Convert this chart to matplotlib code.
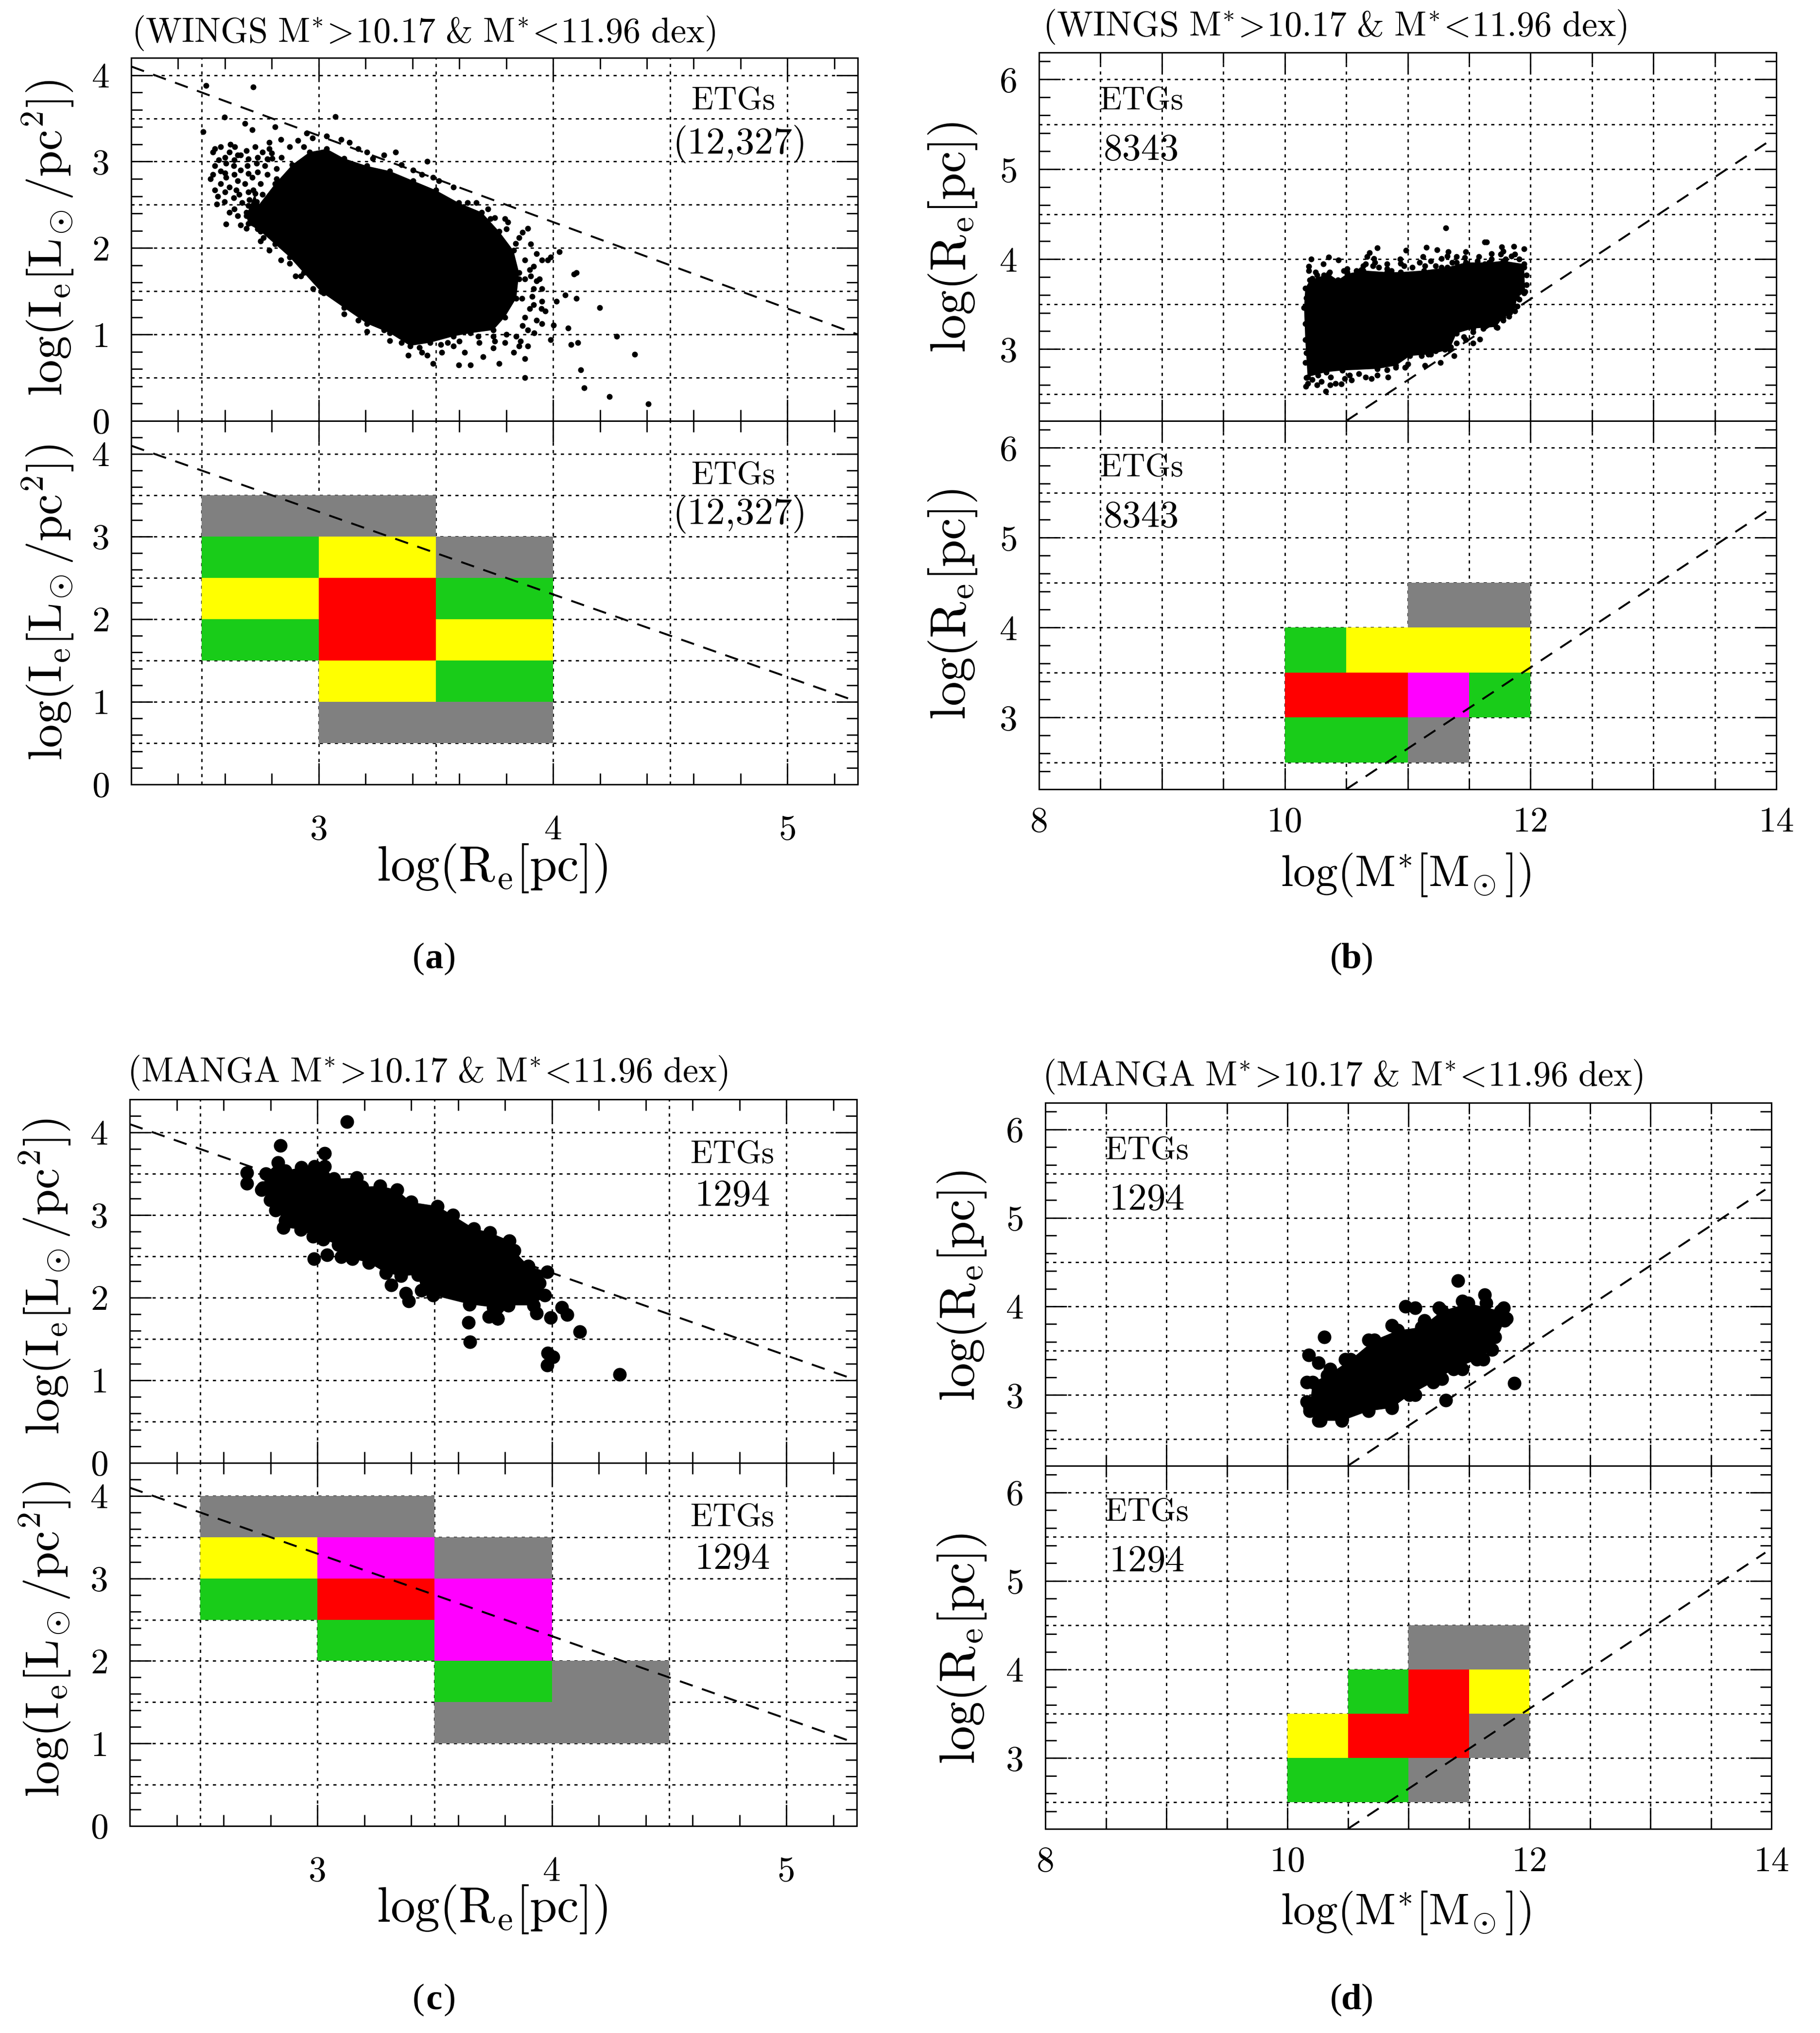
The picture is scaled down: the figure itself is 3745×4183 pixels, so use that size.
import matplotlib
matplotlib.use("Agg")
import matplotlib.pyplot as plt
from matplotlib.colors import ListedColormap, BoundaryNorm
import numpy as np

plt.rcParams['mathtext.fontset'] = 'cm'
plt.rcParams['lines.scale_dashes'] = False
plt.rcParams['axes.unicode_minus'] = False

W, H = 3745, 4183
DPI = 100

# ---------------- data ----------------
size_lum_line_x = [2.2, 5.3]
size_lum_line_y = [4.1, 1.0]
mass_size_line_x = [10.5, 13.95]
mass_size_line_y = [2.2, 5.32]

# Solid part of each cloud (boundary values)
a_cloud_x = [2.691,2.728,2.740,2.814,2.887,2.961,3.034,3.108,3.206,3.304,3.402,3.5,3.598,3.696,3.770,3.831,3.855,3.843,3.794,3.745,3.647,3.574,3.475,3.390,3.304,3.206,3.108,3.010,2.936,2.875,2.814,2.752,2.700]
a_cloud_y = [2.375,2.632,2.485,2.743,2.963,3.110,3.147,3.037,2.949,2.890,2.779,2.669,2.522,2.412,2.191,1.971,1.713,1.419,1.199,1.051,1.015,0.978,0.904,0.868,1.015,1.125,1.309,1.493,1.713,1.897,2.044,2.191,2.280]
a_pts_x = [2.507,2.520,2.721,3.071,3.328,3.463,2.598,2.686,2.623,2.556,2.654,2.716,2.556,2.605,2.539,2.569,2.605,2.691,2.647,2.716,2.814,2.949,2.936,3.132,3.230,3.439,3.512,3.635,3.733,3.806,3.892,3.953,4.027,3.917,3.990,4.088,4.100,3.941,4.015,4.051,4.100,4.199,3.953,4.002,4.064,3.990,4.076,4.105,4.272,4.348,4.118,4.132,4.240,4.407,3.880,3.770,3.880,3.855,3.701,3.647,3.598,3.488,3.382,3.304,3.206,3.022,2.924,2.875,2.789,3.880,3.794,3.745,3.684,3.574,3.525,3.439,3.868,3.917,3.953,3.855,3.819,
           2.549,2.581,2.618,2.642,2.667,2.691,2.728,2.760,2.789,2.574,2.605,2.637,2.667,2.696,2.735,2.770,2.801,2.549,2.581,2.618,2.654,2.686,2.721,2.752,2.564,2.598,2.637,2.672,2.703,2.735,2.556,2.581,2.618,2.654,2.691,2.667,2.716,2.765,2.801,2.789,2.838,2.875,2.912,2.973,3.034,3.096,3.169,3.206,3.279,3.353,3.402,3.488,3.574,3.672,3.721,3.794,3.855,3.904,3.929,3.978,3.880,3.904,3.953,3.880,3.917,3.966,3.929,3.892,3.843,3.892,3.831,3.745,3.623,3.549,3.463,3.353,3.279,3.169,3.108,2.975,2.900,2.838,2.752,
           2.60,2.64,2.70,2.74,2.78,2.60,2.64,2.70,2.74,2.78,2.82,2.60,2.66,2.70,2.76,2.64,2.70,2.72,2.76,2.78,2.74,2.80,2.82,2.84,2.80,
           3.90,3.93,3.91,3.95,3.90,3.87,3.92,3.86,3.80,3.75,3.68,3.60,3.52,3.43,3.84,3.87,3.75,3.80]
a_pts_y = [3.346,3.882,3.860,3.522,3.110,3.0,3.515,3.441,3.199,3.147,3.074,3.368,2.949,2.816,2.801,2.596,2.279,2.228,2.669,2.816,3.404,3.331,3.169,3.221,3.037,2.853,2.779,2.522,2.338,2.301,2.228,1.860,1.956,1.787,1.897,1.699,1.713,1.640,1.382,1.456,1.419,1.309,1.125,1.110,1.074,0.941,0.882,0.904,0.978,0.772,0.588,0.382,0.279,0.199,0.5,0.662,0.721,0.868,0.743,0.647,0.647,0.662,0.757,0.926,1.037,1.478,1.676,1.824,1.971,1.199,0.904,0.978,0.904,0.868,0.794,0.794,1.419,1.346,1.382,1.640,1.787,
           3.110,3.169,3.110,3.169,3.074,3.125,3.169,3.110,3.147,3.022,2.978,2.949,2.904,2.949,2.978,2.949,3.037,2.853,2.743,2.706,2.779,2.743,2.669,2.743,2.507,2.537,2.581,2.522,2.559,2.537,2.669,2.890,2.412,2.375,2.412,2.265,2.287,2.118,2.140,3.221,3.257,3.169,3.243,3.272,3.294,3.257,3.147,3.110,3.074,2.963,2.904,2.816,2.706,2.522,2.449,2.338,2.118,2.044,1.934,1.860,1.860,1.676,1.529,1.640,1.529,1.272,1.162,1.051,0.978,0.868,0.794,0.846,0.794,0.904,0.757,0.904,1.051,1.162,1.235,1.529,1.676,1.860,2.081,
           3.05,3.02,3.03,3.05,3.03,2.87,2.85,2.86,2.88,2.85,2.92,2.65,2.62,2.65,2.62,2.45,2.49,2.38,2.40,2.30,2.22,2.55,2.80,3.05,3.10,
           1.75,1.62,1.44,1.30,1.30,1.10,1.02,0.92,1.00,0.92,0.98,0.92,0.88,0.85,2.05,2.18,2.35,2.22]

b_cloud_x = [10.167,10.205,10.356,10.432,10.508,10.640,10.830,10.943,11.133,11.322,11.473,11.663,11.777,11.947,11.956,11.890,11.871,11.777,11.720,11.530,11.398,11.341,11.189,11.019,10.905,10.754,10.470,10.337,10.186,10.167,10.157]
b_cloud_y = [3.677,3.767,3.838,3.767,3.838,3.874,3.856,3.856,3.874,3.910,3.964,3.964,3.982,3.946,3.641,3.569,3.425,3.354,3.246,3.228,3.174,2.995,2.941,2.923,2.815,2.779,2.761,2.743,2.689,3.102,3.461]
b_pts_x = [11.311,11.625,11.644,10.754,10.987,11.152,11.241,11.767,11.866,11.947,11.331,11.473,10.688,10.356,10.437,10.214,10.314,10.195,10.252,10.725,10.640,10.830,10.939,11.123,11.275,11.398,11.682,11.578,11.871,11.777,10.508,10.170,10.333,10.261,10.369,10.460,10.545,10.176,10.706,10.839,10.977,11.142,11.265,11.379,11.587,11.530,11.350,11.455,11.729,11.824,
           10.195,10.223,10.261,10.318,10.366,10.479,10.508,10.583,10.621,10.669,10.659,10.716,10.735,10.763,10.830,10.867,10.943,10.972,11.038,11.095,11.142,11.189,11.227,11.275,11.322,11.360,11.398,11.464,11.483,11.568,11.625,11.682,11.758,11.795,11.843,11.909,11.947,11.966,11.966,11.947,11.909,11.890,11.833,11.777,11.682,11.616,11.530,11.473,11.398,11.303,11.227,11.170,11.114,11.0,10.905,10.830,10.754,10.659,10.602,10.527,10.413,10.375,10.299,10.223,10.186,10.271,10.489,10.174,10.167,10.167,10.176,10.223]
b_pts_y = [4.350,4.189,4.189,4.126,4.099,4.131,4.104,4.135,4.144,4.117,4.081,4.081,4.072,4.022,3.991,4.0,3.946,3.919,3.856,4.009,3.928,3.946,4.0,4.027,4.009,4.027,4.063,4.027,4.054,4.090,3.892,2.582,2.528,2.600,2.600,2.609,2.654,2.680,2.671,2.689,2.794,2.815,2.851,2.923,3.111,3.066,3.022,3.138,3.237,3.363,
           3.874,3.785,3.820,3.820,3.856,3.874,3.856,3.874,3.883,4.027,3.946,3.928,3.964,3.910,3.892,3.874,3.955,3.928,3.910,3.964,3.928,3.982,3.928,3.910,4.036,3.964,3.964,4.018,3.946,3.982,3.946,4.0,4.054,4.0,4.036,4.0,3.910,3.820,3.713,3.623,3.551,3.479,3.408,3.318,3.282,3.228,3.192,3.102,3.066,2.995,2.977,2.941,2.923,2.833,2.797,2.770,2.707,2.689,2.725,2.707,2.618,2.689,2.636,2.662,2.618,2.707,2.671,3.569,3.282,2.851,2.959,2.743]

c_cloud_x = [2.768,2.780,2.833,2.863,2.932,2.988,3.030,3.071,3.167,3.190,3.268,3.339,3.399,3.512,3.577,3.667,3.735,3.818,3.839,3.899,3.980,3.946,3.970,3.923,3.815,3.768,3.732,3.750,3.649,3.494,3.444,3.429,3.357,3.292,3.220,3.149,3.101,3.089,3.024,2.982,2.929,2.855,2.863,2.821,2.798,2.762]
c_cloud_y = [3.328,3.50,3.635,3.537,3.578,3.586,3.586,3.439,3.451,3.341,3.353,3.304,3.157,3.108,2.998,2.838,2.789,2.691,2.569,2.385,2.311,2.176,2.029,1.907,1.907,1.748,1.772,1.882,1.919,2.029,2.091,2.275,2.262,2.299,2.422,2.471,2.495,2.642,2.703,2.740,2.826,2.850,2.936,3.059,3.181,3.304]
c_pts_x = [3.126,2.843,3.030,2.70,2.70,2.986,3.042,3.315,3.377,3.389,3.645,3.651,3.982,4.004,3.980,4.119,4.288,3.935,3.994,4.042,4.065,3.768]
c_pts_y = [4.13,3.84,3.75,3.51,3.38,2.471,2.520,2.152,2.054,1.956,1.698,1.466,1.331,1.282,1.184,1.588,1.073,1.809,1.760,1.882,1.797,1.748]

d_cloud_x = [10.209,10.330,10.524,10.718,10.913,11.107,11.277,11.495,11.762,11.796,11.689,11.568,11.374,11.204,11.010,10.864,10.670,10.451,10.272,10.184]
d_cloud_y = [3.146,3.219,3.401,3.620,3.730,3.766,3.949,4.036,3.949,3.839,3.511,3.401,3.292,3.146,3.0,2.854,2.818,2.708,2.708,2.854]
d_pts_x = [11.408,11.631,10.976,11.058,10.306,10.175,10.257,11.874,11.311,11.617,
           10.160,10.160,10.354,10.476,10.670,10.864,11.131,11.252,11.447,11.641,11.786,11.811,11.714,11.592,11.447,11.277,11.058,10.864,10.670,10.451,10.257,10.184]
d_pts_y = [4.292,4.131,4.0,3.985,3.657,3.453,3.365,3.131,2.942,3.401,
           3.146,2.927,3.292,3.401,3.620,3.788,3.839,3.985,4.058,4.036,3.985,3.861,3.657,3.438,3.292,3.182,3.0,2.869,2.854,2.723,2.708,2.818]

# 2-D bins; 0 empty, 1 grey, 2 green, 3 yellow, 4 magenta, 5 red
level_colors = [(1, 1, 1, 0), '#808080', '#19CC19', '#FFFF00', '#FF00FF', '#FF0000']

a_xedges = [2.5, 3.0, 3.5, 4.0]
a_yedges = [0.5, 1.0, 1.5, 2.0, 2.5, 3.0, 3.5]
a_levels = [[0, 1, 1], [0, 3, 2], [2, 5, 3], [3, 5, 2], [2, 3, 1], [1, 1, 0]]

b_xedges = [10.0, 10.5, 11.0, 11.5, 12.0]
b_yedges = [2.5, 3.0, 3.5, 4.0, 4.5]
b_levels = [[2, 2, 1, 0], [5, 5, 4, 2], [2, 3, 3, 3], [0, 0, 1, 1]]

c_xedges = [2.5, 3.0, 3.5, 4.0, 4.5]
c_yedges = [1.0, 1.5, 2.0, 2.5, 3.0, 3.5, 4.0]
c_levels = [[0, 0, 1, 1], [0, 0, 2, 1], [0, 2, 4, 0], [2, 5, 4, 0], [3, 4, 1, 0], [1, 1, 0, 0]]

d_xedges = [10.0, 10.5, 11.0, 11.5, 12.0]
d_yedges = [2.5, 3.0, 3.5, 4.0, 4.5]
d_levels = [[2, 2, 1, 0], [3, 5, 5, 1], [0, 2, 5, 3], [0, 0, 1, 1]]

# ---------------- drawing ----------------
fig = plt.figure(figsize=(W / DPI, H / DPI), dpi=DPI, facecolor='white')
cmap = ListedColormap(level_colors)
norm = BoundaryNorm(np.arange(-0.5, 6.5, 1), cmap.N)
PX = 72 / DPI
TEXT = dict(family='cmr10', color='black', ha='center', va='center')


def fx(x):
    return x / W


def fy(y):
    return 1 - y / H


def style(ax, kind, ylim, show_x):
    ax.set_ylim(*ylim)
    if kind == 'sl':
        ax.set_xlim(2.2, 5.3)
        xmaj = [3, 4, 5]
        xlab = ['3', '4', '5']
        xmin = [2.4, 2.6, 2.8, 3.2, 3.4, 3.6, 3.8, 4.2, 4.4, 4.6, 4.8, 5.2]
        ymaj = [0, 1, 2, 3, 4]
        ymin = [v / 10 for v in range(2, 44, 2) if v % 10]
        gx = [2.5, 3, 3.5, 4, 4.5, 5]
        gy = [0.5, 1, 1.5, 2, 2.5, 3, 3.5, 4]
        xpad = 62
    else:
        ax.set_xlim(8, 14)
        xmaj = [8, 9, 10, 11, 12, 13, 14]
        xlab = ['8', '', '10', '', '12', '', '14']
        xmin = [8.5, 9.5, 10.5, 11.5, 12.5, 13.5]
        ymaj = [3, 4, 5, 6]
        ymin = [v / 10 for v in range(24, 64, 2) if v % 10]
        gx = [8.5, 9, 9.5, 10, 10.5, 11, 11.5, 12, 12.5, 13, 13.5]
        gy = [2.5, 3, 3.5, 4, 4.5, 5, 5.5, 6]
        xpad = 36
    ax.set_xticks(xmaj)
    ax.set_xticklabels(xlab if show_x else [''] * len(xmaj))
    ax.set_xticks(xmin, minor=True)
    ax.set_yticks(ymaj)
    ax.set_yticklabels([str(v) for v in ymaj])
    ax.set_yticks(ymin, minor=True)
    ax.tick_params(which='major', direction='in', top=True, right=True, length=44 * PX,
                   width=2.8 * PX, zorder=6)
    ax.tick_params(which='minor', direction='in', top=True, right=True, length=23 * PX,
                   width=2.8 * PX, zorder=6)
    ax.tick_params(axis='x', which='major', pad=xpad * PX)
    ax.tick_params(axis='y', which='major', pad=44 * PX)
    for t in ax.get_xticklabels() + ax.get_yticklabels():
        t.set_family('cmr10')
        t.set_fontsize(53)
    for s in ax.spines.values():
        s.set_linewidth(3 * PX)
        s.set_zorder(7)
    for v in gx:
        ax.plot([v, v], ax.get_ylim(), color='black', lw=2.8 * PX,
                ls=(0, (6.5 * PX, 9 * PX)), zorder=1, dash_capstyle='butt')
    for v in gy:
        ax.plot(ax.get_xlim(), [v, v], color='black', lw=2.8 * PX,
                ls=(0, (6.5 * PX, 9 * PX)), zorder=1, dash_capstyle='butt')


def panel(box, kind, ylim_top, ylim_bot, cloud_x, cloud_y, pts_x, pts_y, dia, line_x, line_y, xe, ye, lv):
    left, top, mid, right, bottom = box
    ax1 = fig.add_axes([fx(left), fy(mid), (right - left) / W, (mid - top) / H])
    ax2 = fig.add_axes([fx(left), fy(bottom), (right - left) / W, (bottom - mid) / H])
    style(ax1, kind, ylim_top, False)
    style(ax2, kind, ylim_bot, True)
    s = (dia * PX) ** 2
    ax1.fill(cloud_x, cloud_y, color='black', lw=0, zorder=3)
    ax1.scatter(cloud_x + pts_x, cloud_y + pts_y, s=s, c='black', marker='o',
                linewidths=0, zorder=3)
    ax2.pcolormesh(xe, ye, lv, cmap=cmap, norm=norm, zorder=2, antialiased=False,
                   edgecolors='none')
    for ax in (ax1, ax2):
        ax.plot(line_x, line_y, color='black', lw=4 * PX,
                ls=(0, (28 * PX, 20 * PX)), zorder=4, dash_capstyle='butt')


panel((270, 119, 866, 1765, 1614), 'sl', (0, 4.2), (0, 4.4), a_cloud_x, a_cloud_y, a_pts_x, a_pts_y, 12,
      size_lum_line_x, size_lum_line_y, a_xedges, a_yedges, a_levels)
panel((2138, 108, 866, 3655, 1624), 'ms', (2.2, 6.3), (2.2, 6.3), b_cloud_x, b_cloud_y, b_pts_x, b_pts_y, 12,
      mass_size_line_x, mass_size_line_y, b_xedges, b_yedges, b_levels)
panel((267, 2262, 3010, 1763, 3757), 'sl', (0, 4.4), (0, 4.4), c_cloud_x, c_cloud_y, c_pts_x, c_pts_y, 28,
      size_lum_line_x, size_lum_line_y, c_xedges, c_yedges, c_levels)
panel((2151, 2269, 3016, 3645, 3763), 'ms', (2.2, 6.3), (2.2, 6.3), d_cloud_x, d_cloud_y, d_pts_x, d_pts_y, 28,
      mass_size_line_x, mass_size_line_y, d_xedges, d_yedges, d_levels)


def T(x, y, s, size=48, **kw):
    o = dict(TEXT)
    o.update(kw)
    fig.text(fx(x), fy(y), s, fontsize=size, **o)


# titles
for x, y, name in [(872, 69, 'WINGS'), (2747, 56, 'WINGS'), (880, 2208, 'MANGA'), (2763, 2216, 'MANGA')]:
    T(x, y, r'$\mathrm{(' + name + r'\ M^{*}\!>\!10.17\ &\ M^{*}\!<\!11.96\ dex)}$', size=52)

# in-panel notes
for x, y, s in [(1509, 208, 'ETGs'), (1509, 979, 'ETGs'), (2349, 208, 'ETGs'), (2349, 963, 'ETGs'),
                (1507, 2376, 'ETGs'), (1507, 3123, 'ETGs'), (2360, 2368, 'ETGs'), (2360, 3112, 'ETGs')]:
    T(x, y, s, size=48)
for x, y, s in [(1523, 296, '(12,327)'), (1523, 1059, '(12,327)'), (2349, 309, '8343'), (2349, 1064, '8343'),
                (1507, 2461, '1294'), (1507, 3208, '1294'), (2360, 2469, '1294'), (2360, 3213, '1294')]:
    T(x, y, s, size=56)

# axis labels
xlab_sl = r'$\mathrm{log(R_e[pc])}$'
xlab_ms = r'$\mathrm{log(M^{*}[M_{\!\odot}])}$'
ylab_sl = r'$\mathrm{log(I_e[L_{\!\odot}/pc^2])}$'
ylab_ms = r'$\mathrm{log(R_e[pc])}$'
for x, y, s, size in [(1013, 1787, xlab_sl, 73), (2893, 1800, xlab_ms, 66), (1013, 3928, xlab_sl, 73), (2893, 3936, xlab_ms, 66)]:
    T(x, y, s, size=size)
for x, y, s in [(99, 490, ylab_sl), (99, 1240, ylab_sl), (93, 2627, ylab_sl), (93, 3373, ylab_sl)]:
    T(x, y, s, size=70, rotation=90)
for x, y, s in [(1960, 488, ylab_ms), (1960, 1243, ylab_ms), (1979, 2645, ylab_ms), (1979, 3392, ylab_ms)]:
    T(x, y, s, size=73, rotation=90)

# sub-figure captions
for x, y, letter in [(893, 1973, 'a'), (2781, 1973, 'b'), (893, 4115, 'c'), (2781, 4115, 'd')]:
    T(x - 32, y, '(', size=54, family='Liberation Serif')
    T(x, y, letter, size=54, family='Liberation Serif', fontweight='bold')
    T(x + 32, y, ')', size=54, family='Liberation Serif')

fig.savefig('out.png', dpi=DPI, facecolor='white')
